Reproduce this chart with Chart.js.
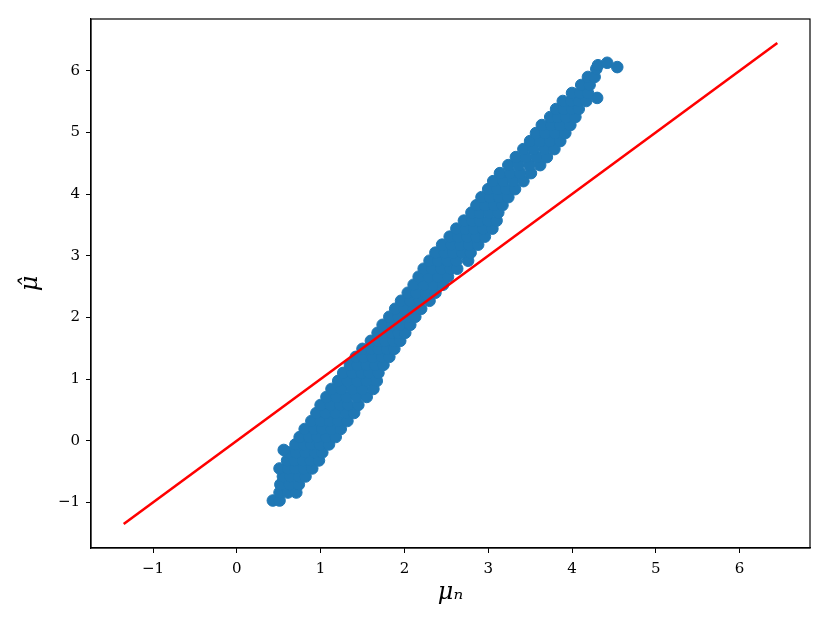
<!DOCTYPE html>
<html>
<head>
<meta charset="utf-8">
<script src="https://cdn.jsdelivr.net/npm/chart.js@4.4.0/dist/chart.umd.min.js"></script>
<style>
  body { margin: 0; background: #fff; }
  canvas { display: block; }
</style>
</head>
<body>
<canvas id="myChart" width="830" height="623"></canvas>
<script>
// values, row by row along the band
const muN = [
  0.43, 0.51,
  0.51, 0.61, 0.71,
  0.52, 0.63, 0.74,
  0.55, 0.64, 0.74, 0.82,
  0.51, 0.61, 0.70, 0.80, 0.90,
  0.60, 0.69, 0.79, 0.88, 0.98,
  0.62, 0.71, 0.82, 0.93, 1.02,
  0.56,
  0.70, 0.80, 0.89, 0.99, 1.10,
  0.75, 0.86, 0.96, 1.07, 1.18,
  0.81, 0.92, 1.02, 1.13, 1.24,
  0.89, 1.00, 1.11, 1.21, 1.32,
  0.95, 1.06, 1.18, 1.30, 1.40,
  1.00, 1.12, 1.23, 1.33, 1.45,
  1.07, 1.19, 1.31, 1.43, 1.55,
  1.13, 1.25, 1.38, 1.50, 1.63,
  1.21, 1.32, 1.44, 1.55, 1.67,
  1.27, 1.38, 1.49, 1.58, 1.69,
  1.35, 1.44, 1.55, 1.65, 1.75,
  1.42, 1.51, 1.62, 1.73, 1.82,
  1.50, 1.60, 1.69, 1.79, 1.88,
  1.60, 1.69, 1.77, 1.87, 1.95,
  1.68, 1.76, 1.85, 1.93, 2.01,
  1.74, 1.85, 1.95, 2.07,
  1.82, 1.93, 2.04, 2.13,
  1.89, 2.00, 2.11, 2.20,
  1.96, 2.07, 2.18, 2.30,
  2.04, 2.14, 2.26, 2.37,
  2.11, 2.23, 2.35, 2.46,
  2.17, 2.29, 2.40, 2.52,
  2.23, 2.33, 2.44, 2.55, 2.63,
  2.30, 2.40, 2.51, 2.62, 2.76,
  2.37, 2.48, 2.58, 2.69, 2.79,
  2.45, 2.56, 2.67, 2.77, 2.88,
  2.54, 2.64, 2.75, 2.86, 2.96,
  2.62, 2.73, 2.83, 2.94, 3.05,
  2.71, 2.81, 2.90, 3.00, 3.10,
  2.80, 2.90, 3.01, 3.12,
  2.86, 2.96, 3.07, 3.17,
  2.92, 3.02, 3.13, 3.24,
  3.00, 3.11, 3.21, 3.32,
  3.06, 3.18, 3.30, 3.42,
  3.14, 3.26, 3.38, 3.51,
  3.24, 3.36, 3.49, 3.62,
  3.33, 3.45, 3.58, 3.70,
  3.42, 3.54, 3.67, 3.79,
  3.50, 3.62, 3.74, 3.86,
  3.57, 3.68, 3.80, 3.92,
  3.64, 3.75, 3.86, 3.98,
  3.74, 3.83, 3.93, 4.04,
  3.81, 3.90, 4.00, 4.08,
  3.89, 3.99, 4.08, 4.17,
  4.30,
  4.00, 4.10, 4.19,
  4.11, 4.21,
  4.19, 4.27,
  4.29, 4.31, 4.42, 4.54
];
const muHat = [
  -0.97, -0.97,
  -0.84, -0.84, -0.84,
  -0.71, -0.71, -0.71,
  -0.58, -0.58, -0.58, -0.58,
  -0.45, -0.45, -0.45, -0.45, -0.45,
  -0.32, -0.32, -0.32, -0.32, -0.32,
  -0.19, -0.19, -0.19, -0.19, -0.19,
  -0.15,
  -0.06, -0.06, -0.06, -0.06, -0.06,
  0.06, 0.06, 0.06, 0.06, 0.06,
  0.19, 0.19, 0.19, 0.19, 0.19,
  0.32, 0.32, 0.32, 0.32, 0.32,
  0.45, 0.45, 0.45, 0.45, 0.45,
  0.58, 0.58, 0.58, 0.58, 0.58,
  0.71, 0.71, 0.71, 0.71, 0.71,
  0.84, 0.84, 0.84, 0.84, 0.84,
  0.97, 0.97, 0.97, 0.97, 0.97,
  1.10, 1.10, 1.10, 1.10, 1.10,
  1.23, 1.23, 1.23, 1.23, 1.23,
  1.36, 1.36, 1.36, 1.36, 1.36,
  1.49, 1.49, 1.49, 1.49, 1.49,
  1.62, 1.62, 1.62, 1.62, 1.62,
  1.75, 1.75, 1.75, 1.75, 1.75,
  1.88, 1.88, 1.88, 1.88,
  2.01, 2.01, 2.01, 2.01,
  2.14, 2.14, 2.14, 2.14,
  2.27, 2.27, 2.27, 2.27,
  2.40, 2.40, 2.40, 2.40,
  2.53, 2.53, 2.53, 2.53,
  2.66, 2.66, 2.66, 2.66,
  2.79, 2.79, 2.79, 2.79, 2.79,
  2.92, 2.92, 2.92, 2.92, 2.92,
  3.05, 3.05, 3.05, 3.05, 3.05,
  3.18, 3.18, 3.18, 3.18, 3.18,
  3.31, 3.31, 3.31, 3.31, 3.31,
  3.44, 3.44, 3.44, 3.44, 3.44,
  3.57, 3.57, 3.57, 3.57, 3.57,
  3.70, 3.70, 3.70, 3.70,
  3.82, 3.82, 3.82, 3.82,
  3.95, 3.95, 3.95, 3.95,
  4.08, 4.08, 4.08, 4.08,
  4.21, 4.21, 4.21, 4.21,
  4.34, 4.34, 4.34, 4.34,
  4.47, 4.47, 4.47, 4.47,
  4.60, 4.60, 4.60, 4.60,
  4.73, 4.73, 4.73, 4.73,
  4.86, 4.86, 4.86, 4.86,
  4.99, 4.99, 4.99, 4.99,
  5.12, 5.12, 5.12, 5.12,
  5.25, 5.25, 5.25, 5.25,
  5.38, 5.38, 5.38, 5.38,
  5.51, 5.51, 5.51, 5.51,
  5.56,
  5.64, 5.64, 5.64,
  5.77, 5.77,
  5.90, 5.90,
  6.03, 6.09, 6.13, 6.06
];

// y = x reference line, end points
const refLine = [-1.35, 6.45];

const xTicks = [-1, 0, 1, 2, 3, 4, 5, 6];
const yTicks = [-1, 0, 1, 2, 3, 4, 5, 6];

const serif = "'DejaVu Serif', 'Liberation Serif', serif";

let points = muN.map((x, i) => ({ x: x, y: muHat[i] }));
let line = refLine.map((v) => ({ x: v, y: v }));

// full box round the plot, like matplotlib spines
const frame = {
  id: "frame",
  afterDraw(chart) {
    const a = chart.chartArea;
    const c = chart.ctx;
    c.save();
    c.strokeStyle = "#000";
    c.lineWidth = 1.2;
    c.strokeRect(a.left, a.top, a.right - a.left, a.bottom - a.top);
    c.restore();
  }
};

function tickFmt(v) {
  return v < 0 ? "\u2212" + Math.abs(v) : String(v);
}

var ctx = document.getElementById("myChart");
var chart = new Chart(ctx, {
  type: "scatter",
  data: {
    datasets: [
      {
        label: "y = x",
        data: line,
        showLine: true,
        borderColor: "#ff0000",
        borderWidth: 2.6,
        pointRadius: 0,
        order: 0
      },
      {
        label: "mu",
        data: points,
        backgroundColor: "#1f77b4",
        borderColor: "#1f77b4",
        borderWidth: 1,
        pointRadius: 5.8,
        pointHoverRadius: 5.8,
        order: 1
      }
    ]
  },
  options: {
    responsive: false,
    animation: false,
    layout: { padding: { left: 0, top: 19, right: 20, bottom: 0 } },
    plugins: { legend: { display: false }, tooltip: { enabled: false } },
    scales: {
      x: {
        type: "linear",
        min: -1.74,
        max: 6.84,
        afterBuildTicks: (s) => { s.ticks = xTicks.map((v) => ({ value: v })); },
        afterFit: (s) => { s.height = 75; },
        grid: { drawOnChartArea: false, color: "#000", tickLength: 5, tickWidth: 1 },
        border: { color: "#000", width: 1.2 },
        ticks: {
          color: "#000",
          padding: 7,
          font: { family: serif, size: 15 },
          callback: tickFmt
        },
        title: {
          display: true,
          text: "\u03bc\u2099",
          color: "#000",
          padding: { top: 0, bottom: 16 },
          font: { family: serif, size: 24, style: "italic" }
        }
      },
      y: {
        type: "linear",
        min: -1.74,
        max: 6.84,
        afterBuildTicks: (s) => { s.ticks = yTicks.map((v) => ({ value: v })); },
        afterFit: (s) => { s.width = 91; },
        grid: { drawOnChartArea: false, color: "#000", tickLength: 5, tickWidth: 1 },
        border: { color: "#000", width: 1.2 },
        ticks: {
          color: "#000",
          padding: 6,
          font: { family: serif, size: 15 },
          callback: tickFmt
        },
        title: {
          display: true,
          text: "\u03bc\u0302",
          color: "#000",
          padding: { top: 16, bottom: 0 },
          font: { family: serif, size: 24, style: "italic" }
        }
      }
    }
  },
  plugins: [frame]
});
</script>
</body>
</html>
